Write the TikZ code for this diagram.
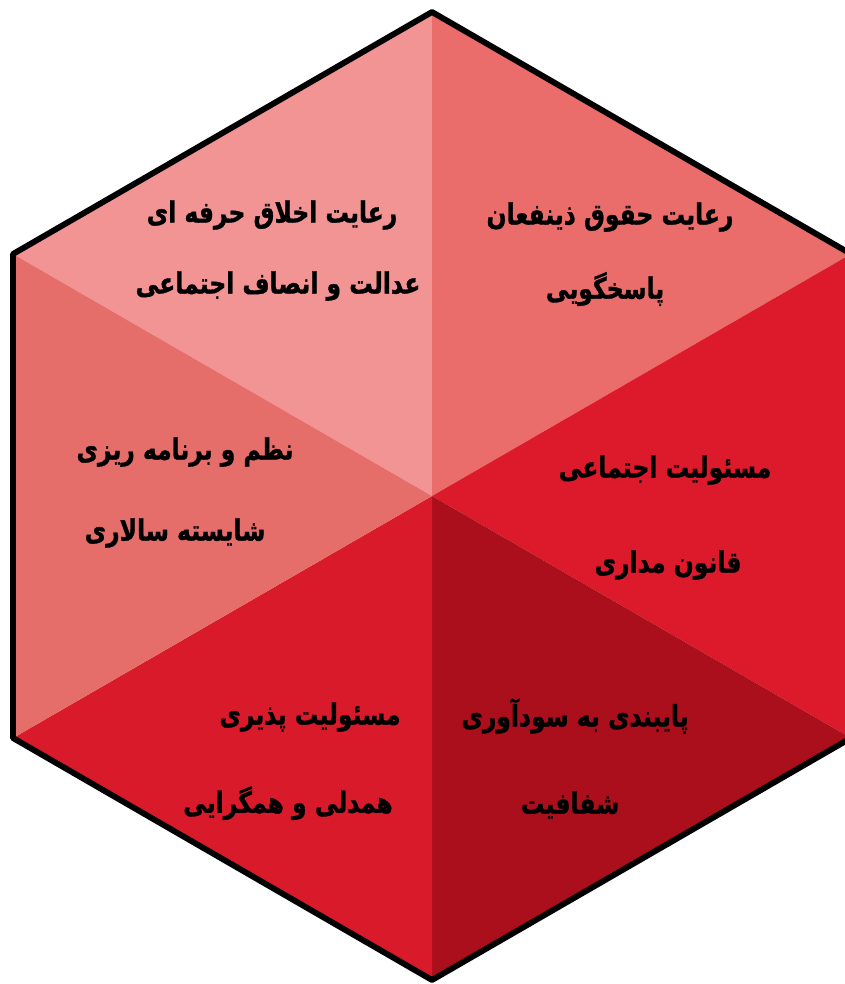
\documentclass[tikz,border=0pt]{standalone}
\usepackage{fontspec}
\usepackage{graphicx}
\newfontfamily\arabicfont[Script=Arabic,BoldFeatures={FakeBold=1.2}]{DejaVu Sans}
\TeXXeTstate=1
\usepackage{tikz}
\usetikzlibrary{calc}

\definecolor{segA}{HTML}{F29494}
\definecolor{segB}{HTML}{EA6D6B}
\definecolor{segC}{HTML}{DC1A2B}
\definecolor{segD}{HTML}{AA0F1B}
\definecolor{segE}{HTML}{D91A2A}
\definecolor{segF}{HTML}{E56E6B}
\newcommand{\fa}[1]{\scalebox{1}[1.25]{\beginR #1\endR}}

\begin{document}
\begin{tikzpicture}[x=.03cm,y=-.03cm,
 lbl/.style={font=\arabicfont\bfseries\fontsize{20}{24}\selectfont,inner sep=0pt,text=black},
 rim/.style={draw=black,line width=5pt,line join=round}]
\useasboundingbox (0,0) rectangle (845,984);
% hexagon corners, centre (432,496), radius 484
\coordinate (c) at (432,496);
\coordinate (v1) at (432,12);
\coordinate (v2) at (851,254);
\coordinate (v3) at (851,738);
\coordinate (v4) at (432,980);
\coordinate (v5) at (13,738);
\coordinate (v6) at (13,254);
\foreach \p/\q/\col in {v1/v6/segA,v1/v2/segB,v2/v3/segC,v3/v4/segD,v4/v5/segE,v5/v6/segF}
  \fill[\col] (c)--(\p)--(\q)--cycle;
\draw[rim] (v1)--(v2)--(v3)--(v4)--(v5)--(v6)--cycle;
% labels
\node[lbl] (ta) at (272,215) {\fa{رعایت اخلاق حرفه ای}};
\node[lbl] (tb) at (278,286) {\fa{عدالت و انصاف اجتماعی}};
\node[lbl] (ra) at (610,217) {\fa{رعایت حقوق ذینفعان}};
\node[lbl] (rb) at (605,289) {\fa{پاسخگویی}};
\node[lbl] (la) at (185,452) {\fa{نظم و برنامه ریزی}};
\node[lbl] (lb) at (175,533) {\fa{شایسته سالاری}};
\node[lbl] (ma) at (665,470) {\fa{مسئولیت اجتماعی}};
\node[lbl] (mb) at (668,565) {\fa{قانون مداری}};
\node[lbl] (ba) at (310,717) {\fa{مسئولیت پذیری}};
\node[lbl] (bb) at (288,803) {\fa{همدلی و همگرایی}};
\node[lbl] (da) at (575,716) {\fa{پایبندی به سودآوری}};
\node[lbl] (db) at (570,805) {\fa{شفافیت}};
\end{tikzpicture}
\end{document}
